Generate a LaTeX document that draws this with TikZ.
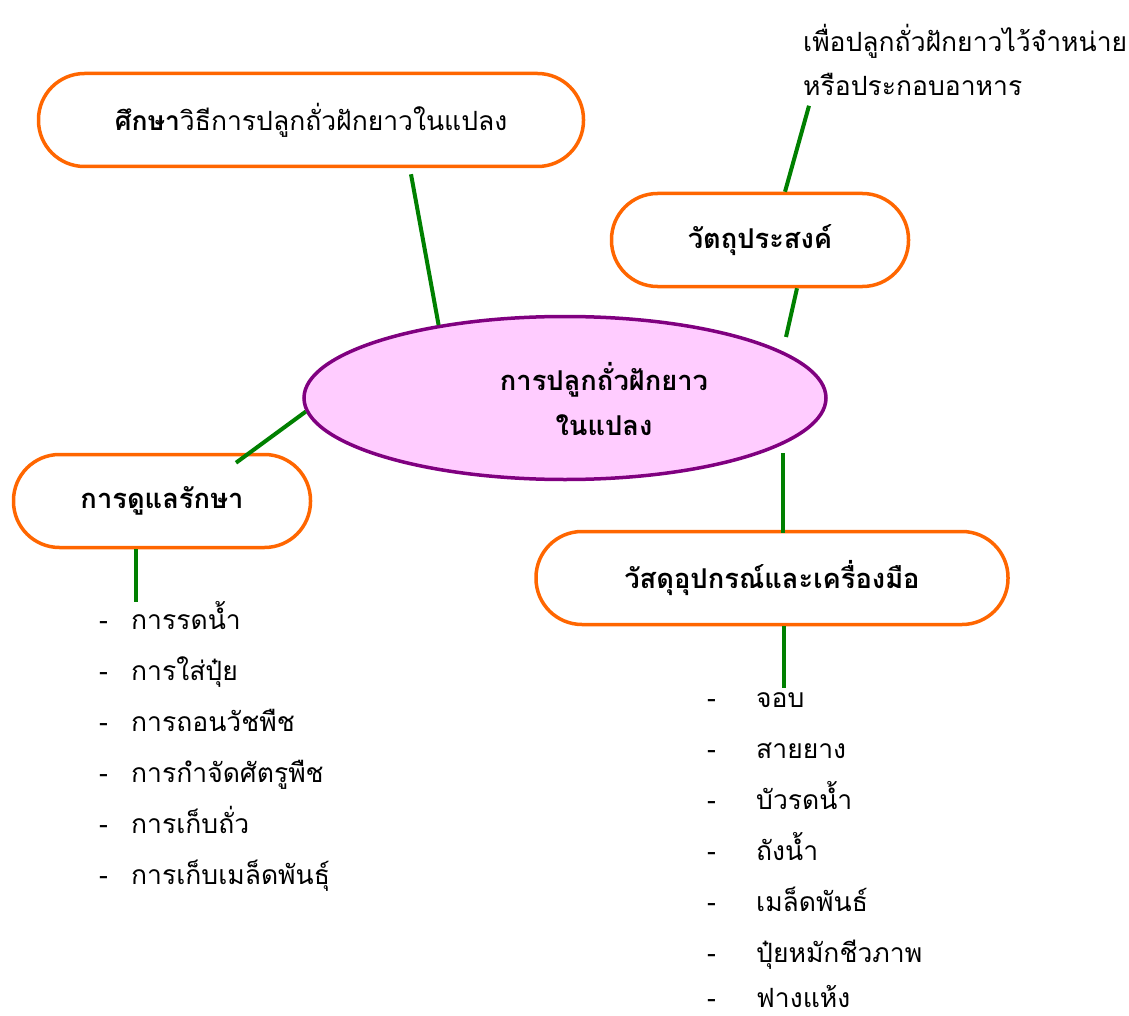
\documentclass[tikz,border=0pt]{standalone}
\usepackage{fontspec}
\setmainfont[Script=Thai]{Loma}
\usepackage{tikz}
\usetikzlibrary{shapes,positioning}
\definecolor{pillorange}{RGB}{255,102,0}
\definecolor{linkgreen}{RGB}{0,128,0}
\definecolor{corepink}{RGB}{255,204,255}
\definecolor{corepurple}{RGB}{128,0,128}

\begin{document}
\begin{tikzpicture}[x=1pt,y=-1pt,
    pill/.style={draw=pillorange,line width=3.5pt,rounded corners=46pt,minimum height=93pt,inner sep=0pt,font=\bfseries\fontsize{27.3}{30}\selectfont},
    core/.style={ellipse,draw=corepurple,fill=corepink,line width=3.5pt,minimum width=522pt,minimum height=163pt},
    link/.style={draw=linkgreen,line width=4pt},
    item/.style={anchor=west,inner sep=0pt,text height=20pt,text depth=6pt,font=\fontsize{26.5}{30}\selectfont}]
    \useasboundingbox (0,0) rectangle (1129,1016);

    % main topic
    \node[core] (core) at (565,398) {};
    \node[align=center,font=\bfseries\fontsize{27.3}{45}\selectfont] (coretext) at (604,399) {การปลูกถั่วฝักยาว\\ในแปลง};

    % branches
    \node[pill,minimum width=545pt,font=\fontsize{26.5}{30}\selectfont] (study) at (311,120) {\textbf{ศึกษา}วิธีการปลูกถั่วฝักยาวในแปลง};
    \node[pill,minimum width=297pt] (goal)  at (760,240) {วัตถุประสงค์};
    \node[pill,minimum width=297pt] (care)  at (162,501) {การดูแลรักษา};
    \node[pill,minimum width=472pt] (tools) at (772,578) {วัสดุอุปกรณ์และเครื่องมือ};

    \node[item,text height=,text depth=,anchor=north west,align=left,font=\fontsize{26.5}{44}\selectfont] (goalnote) at (803,24) {เพื่อปลูกถั่วฝักยาวไว้จำหน่าย\\หรือประกอบอาหาร};

    % links
    \draw[link] ([xshift=100pt,yshift=-6pt]study.south) -- (core.150);
    \draw[link] ([xshift=25pt]goal.north) -- ([xshift=6pt,yshift=-10pt]goalnote.south west);
    \draw[link] ([xshift=37pt]goal.south) -- ([xshift=221pt,yshift=61pt]core.center);
    \draw[link] (core.183) -- ([xshift=74pt,yshift=-10pt]care.north);
    \draw[link] ([xshift=218pt,yshift=-55pt]core.center) -- ([xshift=11pt,yshift=-3pt]tools.north);

    \coordinate (carelist) at (136,602);
    \coordinate (toolslist) at (784,688);
    \draw[link] ([xshift=-26pt]care.south) -- (carelist);
    \draw[link] ([xshift=12pt]tools.south) -- (toolslist);

    % care list
    \node[item] (care1) at (99,622) {\makebox[32pt][l]{-}การรดน้ำ};
    \node[item] (care2) at (99,673) {\makebox[32pt][l]{-}การใส่ปุ๋ย};
    \node[item] (care3) at (99,724) {\makebox[32pt][l]{-}การถอนวัชพืช};
    \node[item] (care4) at (99,775) {\makebox[32pt][l]{-}การกำจัดศัตรูพืช};
    \node[item] (care5) at (99,826) {\makebox[32pt][l]{-}การเก็บถั่ว};
    \node[item] (care6) at (99,877) {\makebox[32pt][l]{-}การเก็บเมล็ดพันธุ์};

    % tools list
    \node[item] (tools1) at (707,700)  {\makebox[49pt][l]{-}จอบ};
    \node[item] (tools2) at (707,751)  {\makebox[49pt][l]{-}สายยาง};
    \node[item] (tools3) at (707,802)  {\makebox[49pt][l]{-}บัวรดน้ำ};
    \node[item] (tools4) at (707,853)  {\makebox[49pt][l]{-}ถังน้ำ};
    \node[item] (tools5) at (707,904)  {\makebox[49pt][l]{-}เมล็ดพันธ์};
    \node[item] (tools6) at (707,955)  {\makebox[49pt][l]{-}ปุ๋ยหมักชีวภาพ};
    \node[item,anchor=base west,text height=,text depth=] (tools7) at (707,1007) {\makebox[49pt][l]{-}ฟางแห้ง};
\end{tikzpicture}
\end{document}
